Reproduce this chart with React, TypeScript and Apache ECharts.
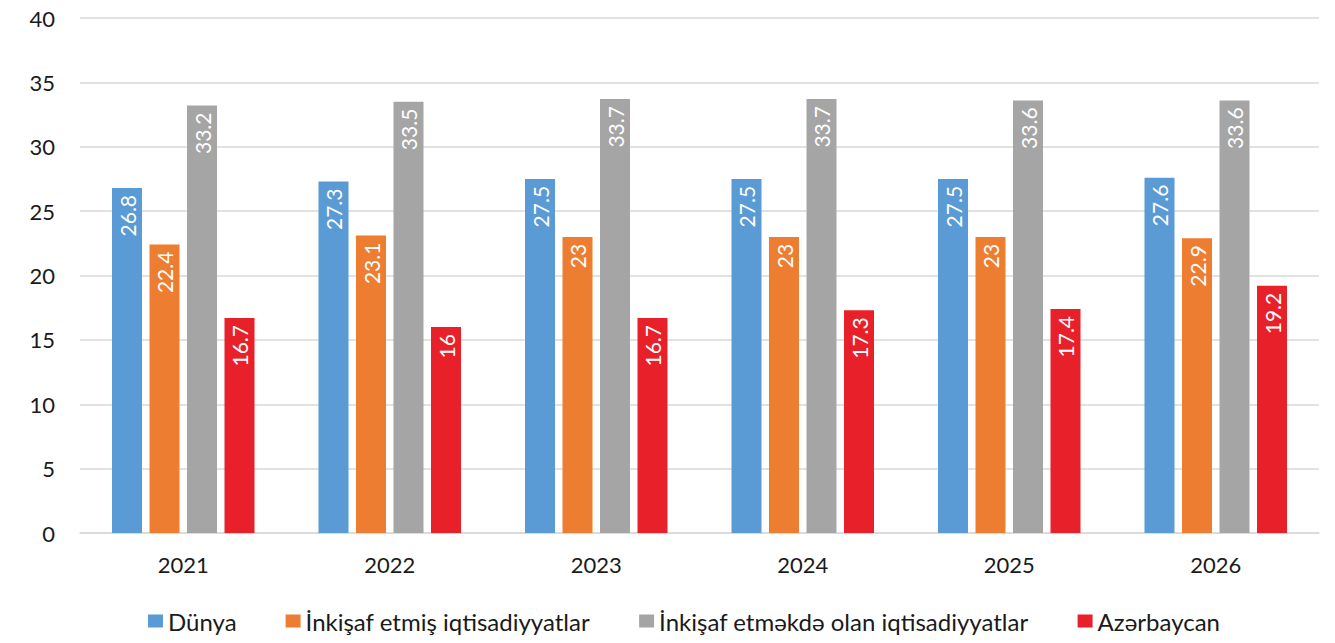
import React, { useEffect, useRef } from "react";
import * as echarts from "echarts";

const categories = ["2021", "2022", "2023", "2024", "2025", "2026"];
const seriesNames = [
  "Dünya",
  "İnkişaf etmiş iqtisadiyyatlar",
  "İnkişaf etməkdə olan iqtisadiyyatlar",
  "Azərbaycan",
];
const dunya = [26.8, 27.3, 27.5, 27.5, 27.5, 27.6];
const inkisafEtmis = [22.4, 23.1, 23, 23, 23, 22.9];
const inkisafEtmekde = [33.2, 33.5, 33.7, 33.7, 33.6, 33.6];
const azerbaycan = [16.7, 16, 16.7, 17.3, 17.4, 19.2];
const colors = ["#5B9BD5", "#ED7D31", "#A5A5A5", "#E8202A"];
const FONT = "Lato, 'Open Sans', sans-serif";

export default function App() {
  const ref = useRef<HTMLDivElement>(null);
  useEffect(() => {
    document.body.style.margin = "0";
    const chart = echarts.init(ref.current!, null, { renderer: "svg" });
    const values = [dunya, inkisafEtmis, inkisafEtmekde, azerbaycan];
    chart.setOption({
      animation: false,
      color: colors,
      textStyle: { fontFamily: FONT },
      grid: { left: 80, right: 16, top: 18, bottom: 110 },
      legend: {
        bottom: 5,
        left: 143,
        icon: "rect",
        itemWidth: 15,
        itemHeight: 13,
        itemGap: 49,
        textStyle: { fontSize: 24, color: "#1a1a1a", fontFamily: FONT },
        data: seriesNames,
      },
      xAxis: {
        type: "category",
        data: categories,
        axisLine: { lineStyle: { color: "#D9D9D9", width: 1.5 } },
        axisTick: { show: false },
        axisLabel: { fontSize: 22, color: "#1a1a1a", margin: 20, fontFamily: FONT },
      },
      yAxis: {
        type: "value",
        min: 0,
        max: 40,
        interval: 5,
        axisLine: { show: false },
        axisTick: { show: false },
        splitLine: { lineStyle: { color: "#D9D9D9", width: 1.5 } },
        axisLabel: { fontSize: 22, color: "#1a1a1a", margin: 25, fontFamily: FONT },
      },
      series: seriesNames.map((name, i) => ({
        name,
        type: "bar",
        data: values[i],
        barWidth: 30,
        barGap: "25%",
        itemStyle: { color: colors[i] },
        label: {
          show: true,
          position: "insideTop",
          rotate: 90,
          align: "right",
          verticalAlign: "middle",
          distance: 7,
          color: "#FFFFFF",
          fontSize: 21,
          fontFamily: FONT,
        },
      })),
    });
    return () => chart.dispose();
  }, []);
  return <div ref={ref} style={{ width: 1335, height: 643 }} />;
}
